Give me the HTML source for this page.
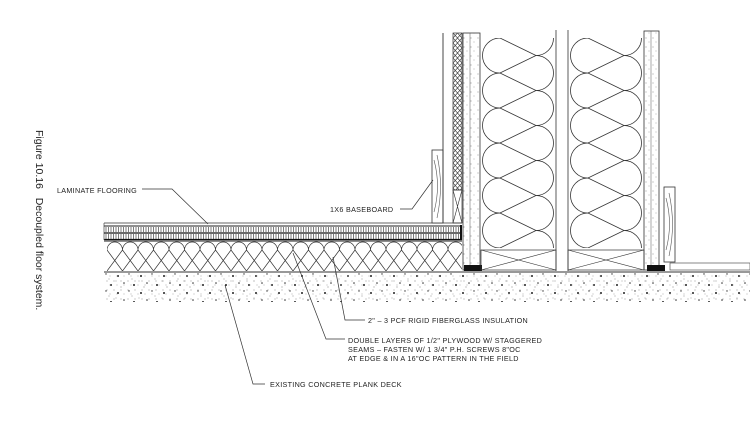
<!DOCTYPE html>
<html><head><meta charset="utf-8"><style>
html,body{margin:0;padding:0;background:#fff;}
svg{display:block;}
text{font-family:"Liberation Sans",sans-serif;fill:#222;}
</style></head><body>
<svg width="750" height="422" viewBox="0 0 750 422" xmlns="http://www.w3.org/2000/svg">
<defs>
<pattern id="dots" width="23" height="17" patternUnits="userSpaceOnUse">
<circle cx="3" cy="4" r="1" fill="#222"/><circle cx="14" cy="2" r="0.7" fill="#333"/>
<circle cx="9" cy="11" r="0.8" fill="#333"/><circle cx="19" cy="13" r="1" fill="#222"/>
<circle cx="6" cy="15" r="0.5" fill="#666"/><circle cx="17" cy="7" r="0.5" fill="#777"/>
<circle cx="1" cy="9" r="0.5" fill="#888"/>
</pattern>
<pattern id="fdots" width="7" height="9" patternUnits="userSpaceOnUse">
<circle cx="2" cy="2" r="0.5" fill="#777"/><circle cx="5" cy="6" r="0.5" fill="#999"/>
</pattern>
<pattern id="hatch" width="2.5" height="10" patternUnits="userSpaceOnUse">
<line x1="1" y1="0" x2="1" y2="10" stroke="#444" stroke-width="0.7"/>
</pattern>
<pattern id="fbatt" x="107" y="241" width="15.5" height="30" patternUnits="userSpaceOnUse">
<path d="M0,9 A7.75,8 0 0 1 15.5,9 M0,9 L15.5,30 M15.5,9 L0,30" fill="none" stroke="#333" stroke-width="0.7"/>
</pattern>
<pattern id="wbatt1" x="480" y="38" width="76" height="35" patternUnits="userSpaceOnUse">
<path d="M20,0 A17.5,17.5 0 0 0 20,35 M56,17.5 A17.5,17.5 0 0 1 56,52.5 M56,-17.5 A17.5,17.5 0 0 1 56,17.5 M20,0 L56,17.5 M20,35 L56,17.5" fill="none" stroke="#333" stroke-width="0.8"/>
</pattern>
<pattern id="wbatt2" x="568" y="38" width="76" height="35" patternUnits="userSpaceOnUse">
<path d="M20,0 A17.5,17.5 0 0 0 20,35 M56,17.5 A17.5,17.5 0 0 1 56,52.5 M56,-17.5 A17.5,17.5 0 0 1 56,17.5 M20,0 L56,17.5 M20,35 L56,17.5" fill="none" stroke="#333" stroke-width="0.8"/>
</pattern>
<pattern id="zig" x="453" y="33" width="9" height="5" patternUnits="userSpaceOnUse">
<path d="M0,0 L4.5,5 L9,0 M0,5 L4.5,0 L9,5" fill="none" stroke="#333" stroke-width="0.6"/>
</pattern>
</defs>

<text transform="translate(36,130) rotate(90)" font-size="10.5" fill="#333">Figure 10.16&#160;&#160;&#160;Decoupled floor system.</text>

<rect x="104" y="272" width="646" height="30" fill="url(#dots)"/>
<rect x="104" y="272" width="646" height="30" fill="url(#fdots)"/>
<line x1="104" y1="272" x2="750" y2="272" stroke="#333" stroke-width="1"/>

<rect x="107" y="241" width="355" height="30" fill="url(#fbatt)"/>
<line x1="104" y1="241" x2="462" y2="241" stroke="#222" stroke-width="1"/>
<line x1="104" y1="223" x2="462" y2="223" stroke="#333" stroke-width="0.8"/>
<line x1="104" y1="226" x2="462" y2="226" stroke="#222" stroke-width="1"/>
<rect x="104" y="227" width="356" height="5" fill="url(#hatch)"/>
<line x1="104" y1="233" x2="460" y2="233" stroke="#111" stroke-width="1.3"/>
<rect x="104" y="234" width="356" height="5" fill="url(#hatch)"/>
<line x1="104" y1="239.5" x2="462" y2="239.5" stroke="#111" stroke-width="1.2"/>
<line x1="461" y1="225" x2="461" y2="240" stroke="#111" stroke-width="2"/>
<line x1="104" y1="223" x2="104" y2="240" stroke="#444" stroke-width="0.7"/>

<rect x="432" y="150" width="11" height="73" fill="#fff" stroke="#333" stroke-width="0.8"/>
<path d="M434,160 Q441,186 434,212 M437,155 Q444,186 437,218" fill="none" stroke="#555" stroke-width="0.6"/>
<line x1="443" y1="33" x2="443" y2="223" stroke="#333" stroke-width="0.9"/>
<rect x="453" y="33" width="9" height="157" fill="url(#zig)" stroke="#333" stroke-width="0.7"/>
<rect x="453" y="190" width="9" height="33" fill="none" stroke="#333" stroke-width="0.7"/>
<path d="M453,190 L462,223 M462,190 L453,223" stroke="#333" stroke-width="0.6"/>
<rect x="463" y="33" width="17" height="237" fill="url(#fdots)" stroke="#333" stroke-width="0.8"/>
<line x1="470" y1="33" x2="470" y2="265" stroke="#555" stroke-width="0.5"/>
<rect x="464" y="265" width="18" height="6" fill="#111"/>

<rect x="480" y="38" width="76" height="210" fill="url(#wbatt1)"/>
<line x1="556" y1="30" x2="556" y2="271" stroke="#333" stroke-width="0.8"/>
<line x1="568" y1="30" x2="568" y2="271" stroke="#333" stroke-width="0.8"/>
<rect x="568" y="38" width="76" height="210" fill="url(#wbatt2)"/>
<rect x="481" y="250" width="75" height="20" fill="none" stroke="#333" stroke-width="0.7"/>
<path d="M481,250 L556,270 M556,250 L481,270" stroke="#333" stroke-width="0.6"/>
<rect x="568" y="250" width="76" height="20" fill="none" stroke="#333" stroke-width="0.7"/>
<path d="M568,250 L644,270 M644,250 L568,270" stroke="#333" stroke-width="0.6"/>

<rect x="644" y="31" width="15" height="239" fill="url(#fdots)" stroke="#333" stroke-width="0.8"/>
<line x1="651" y1="31" x2="651" y2="265" stroke="#555" stroke-width="0.5"/>
<rect x="647" y="265" width="18" height="6" fill="#111"/>
<rect x="664" y="187" width="11" height="75" fill="#fff" stroke="#333" stroke-width="0.8"/>
<path d="M666,198 Q673,224 666,250 M669,193 Q676,224 669,256" fill="none" stroke="#555" stroke-width="0.6"/>
<rect x="670" y="263" width="80" height="7" fill="none" stroke="#555" stroke-width="0.7"/>

<g font-size="7.2" letter-spacing="0.3">
<text x="57" y="193">LAMINATE FLOORING</text>
<text x="330" y="212">1X6 BASEBOARD</text>
<text x="368" y="323">2" – 3 PCF RIGID FIBERGLASS INSULATION</text>
<text x="348" y="343">DOUBLE LAYERS OF 1/2" PLYWOOD W/ STAGGERED</text>
<text x="348" y="352">SEAMS – FASTEN W/ 1 3/4" P.H. SCREWS 8"OC</text>
<text x="348" y="361">AT EDGE &amp; IN A 16"OC PATTERN IN THE FIELD</text>
<text x="270" y="387">EXISTING CONCRETE PLANK DECK</text>
</g>
<g fill="none" stroke="#333" stroke-width="0.7">
<path d="M142,189 L172,189 L208,224"/>
<path d="M400,209 L412,209 L433,180"/>
<path d="M333,257 L345,320 L365,320"/>
<path d="M293,253 L326,339 L345,339"/>
<path d="M225,285 L253,384 L265,384"/>
</g>
</svg>
</body></html>
